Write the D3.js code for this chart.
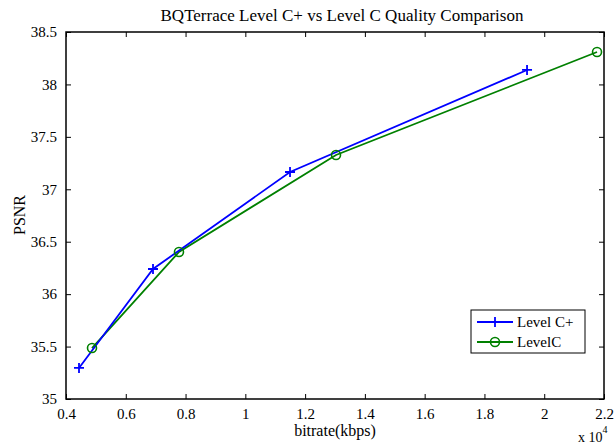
<!DOCTYPE html>
<html><head><meta charset="utf-8">
<script src="https://cdn.jsdelivr.net/npm/d3@7"></script>
<style>
html,body{margin:0;padding:0;background:#fff;}
text{font-family:"Liberation Serif","Times New Roman",serif;fill:#000;}
</style></head>
<body><svg id="chart" width="616" height="445"></svg>
<script>
const titleText = "BQTerrace Level C+ vs Level C Quality Comparison";
const xLabel = "bitrate(kbps)";
const yLabel = "PSNR";
const seriesNames = ["Level C+", "LevelC"];
const seriesColors = ["#0000ff", "#008000"];
const levelCPlusBitrate = [4435, 6911, 11495, 19425];
const levelCPlusPSNR = [35.296, 36.240, 37.165, 38.138];
const levelCBitrate = [4870, 7780, 13034, 21767];
const levelCPSNR = [35.486, 36.402, 37.327, 38.309];
const xTicks = [0.4, 0.6, 0.8, 1, 1.2, 1.4, 1.6, 1.8, 2, 2.2];
const yTicks = [35, 35.5, 36, 36.5, 37, 37.5, 38, 38.5];

const svg = d3.select("#chart");
const L = 66, R = 604, T = 32, B = 399;
const x = d3.scaleLinear().domain([0.4, 2.2]).range([L, R]);
const y = d3.scaleLinear().domain([35, 38.5]).range([B, T]);

svg.append("rect").attr("x", L).attr("y", T).attr("width", R - L).attr("height", B - T)
  .attr("fill", "#fff").attr("stroke", "#000").attr("stroke-width", 1.5);

const fmt = d => String(d);
const axB = d3.axisBottom(x).tickValues(xTicks).tickSizeInner(-5).tickSizeOuter(0).tickPadding(9).tickFormat(fmt);
const axT = d3.axisTop(x).tickValues(xTicks).tickSizeInner(-5).tickSizeOuter(0).tickFormat("");
const axL = d3.axisLeft(y).tickValues(yTicks).tickSizeInner(-5).tickSizeOuter(0).tickPadding(9).tickFormat(fmt);
const axR = d3.axisRight(y).tickValues(yTicks).tickSizeInner(-5).tickSizeOuter(0).tickFormat("");

function style(g){
  g.select(".domain").remove();
  g.selectAll("line").attr("stroke", "#000").attr("stroke-width", 1);
  g.selectAll("text").attr("font-size", 15).style("font-family", '"Liberation Serif",serif');
}
svg.append("g").attr("transform", `translate(0,${B})`).call(axB).call(style);
svg.append("g").attr("transform", `translate(0,${T})`).call(axT).call(style);
svg.append("g").attr("transform", `translate(${L},0)`).call(axL).call(style);
svg.append("g").attr("transform", `translate(${R},0)`).call(axR).call(style);

const s1 = levelCPlusBitrate.map((b, i) => [b / 1e4, levelCPlusPSNR[i]]);
const s2 = levelCBitrate.map((b, i) => [b / 1e4, levelCPSNR[i]]);
const line = d3.line().x(d => x(d[0])).y(d => y(d[1]));

svg.append("path").datum(s2).attr("d", line).attr("fill", "none").attr("stroke", seriesColors[1]).attr("stroke-width", 1.8);
svg.append("path").datum(s1).attr("d", line).attr("fill", "none").attr("stroke", seriesColors[0]).attr("stroke-width", 1.8);

function plus(g, cx, cy, col){
  g.append("path").attr("d", `M${cx-5},${cy}H${cx+5}M${cx},${cy-5}V${cy+5}`)
    .attr("stroke", col).attr("stroke-width", 1.8).attr("fill", "none");
}
function circ(g, cx, cy, col){
  g.append("circle").attr("cx", cx).attr("cy", cy).attr("r", 4.5)
    .attr("stroke", col).attr("stroke-width", 1.6).attr("fill", "none");
}
const mg = svg.append("g");
s2.forEach(d => circ(mg, x(d[0]), y(d[1]), seriesColors[1]));
s1.forEach(d => plus(mg, x(d[0]), y(d[1]), seriesColors[0]));

svg.append("text").attr("x", 342).attr("y", 21).attr("text-anchor", "middle").attr("font-size", 17).text(titleText);
svg.append("text").attr("x", 335).attr("y", 436).attr("text-anchor", "middle").attr("font-size", 16).text(xLabel);
svg.append("text").attr("transform", "translate(25,215) rotate(-90)").attr("text-anchor", "middle").attr("font-size", 16).text(yLabel);
const ex = svg.append("text").attr("x", 578).attr("y", 442).attr("font-size", 14);
ex.append("tspan").text("x 10");
ex.append("tspan").attr("dy", -9).attr("font-size", 10).text("4");

const lg = svg.append("g");
lg.append("rect").attr("x", 471).attr("y", 310).attr("width", 114).attr("height", 43)
  .attr("fill", "#fff").attr("stroke", "#000").attr("stroke-width", 1);
seriesNames.forEach((n, i) => {
  const ly = 322 + i * 20;
  lg.append("line").attr("x1", 477).attr("x2", 513).attr("y1", ly).attr("y2", ly)
    .attr("stroke", seriesColors[i]).attr("stroke-width", 1.8);
  if (i === 0) plus(lg, 495, ly, seriesColors[0]); else circ(lg, 495, ly, seriesColors[1]);
  lg.append("text").attr("x", 517).attr("y", ly + 5).attr("font-size", 15).text(n);
});
</script></body></html>
